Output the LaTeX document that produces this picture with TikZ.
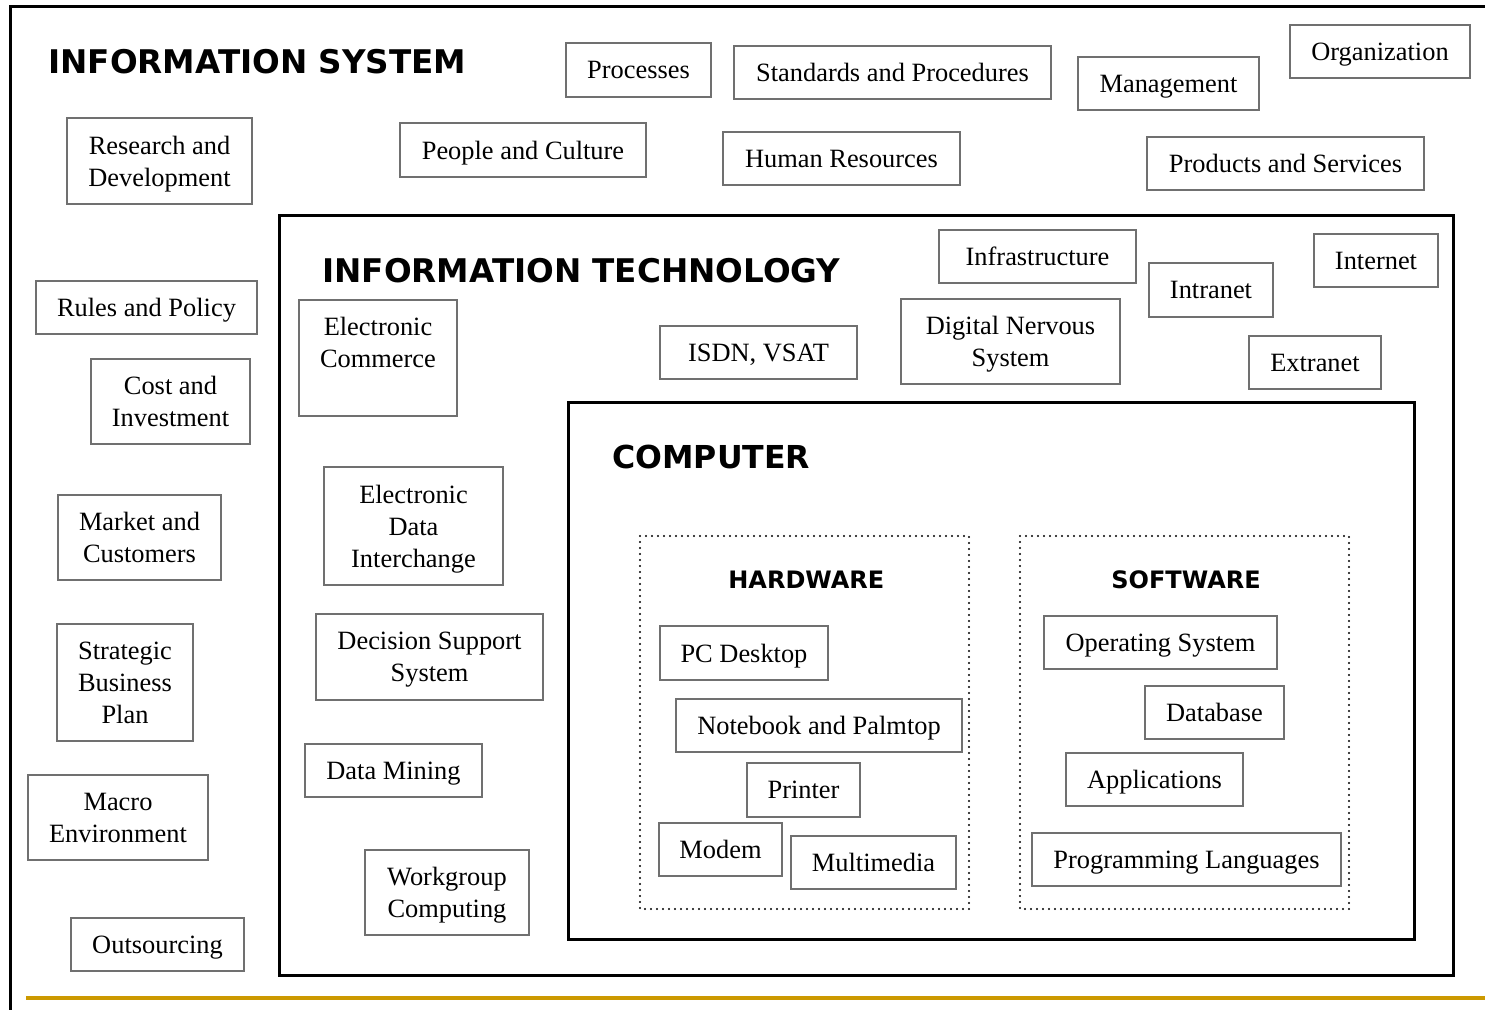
\documentclass[tikz,border=0pt]{standalone}
\usepackage{fontspec}
\setmainfont{Liberation Serif}
\newfontfamily\headfont{DejaVu Sans}
\definecolor{boxgray}{RGB}{112,112,112}
\definecolor{rulegold}{RGB}{204,153,0}
\begin{document}
\begin{tikzpicture}[x=0.5pt,y=-0.5pt,
	item/.style={draw=boxgray,line width=1.25pt,inner sep=2pt,text depth=0pt,align=center,font=\fontsize{13.2}{16}\selectfont},
	title/.style={anchor=base west,inner sep=0pt,font=\headfont\bfseries\fontsize{16.3}{19}\selectfont},
	subtitle/.style={anchor=base west,inner sep=0pt,font=\headfont\bfseries\fontsize{12}{14}\selectfont},
	frame/.style={draw=black,line width=1.5pt},
	group/.style={draw=black,line width=1.1pt,line cap=round,dash pattern=on 0pt off 3pt}]
	\clip (0,0) rectangle (1485,1009);
	% outer frame and rule
	\draw[frame] (10,6) rectangle (1520,1040);
	\draw[rulegold,line width=1.6pt] (26,998) -- (1485,998);
	\node[title] (is) at (48,73) {INFORMATION SYSTEM};
	% information system items
	\node[item,minimum width=72.5pt,minimum height=27pt] (proc) at (638.5,70) {Processes};
	\node[item,minimum width=158.5pt,minimum height=26.5pt] (std) at (892.5,72.5) {Standards and Procedures};
	\node[item,minimum width=90.5pt,minimum height=26.5pt] (mgmt) at (1168.5,83.5) {Management};
	\node[item,minimum width=90pt,minimum height=26.5pt] (org) at (1380,51.5) {Organization};
	\node[item,minimum width=92.5pt,minimum height=43pt] (rnd) at (159.5,161) {Research and\\Development};
	\node[item,minimum width=123pt,minimum height=27pt] (people) at (523,150) {People and Culture};
	\node[item,minimum width=118.5pt,minimum height=26.5pt] (hr) at (841.5,158.5) {Human Resources};
	\node[item,minimum width=138.5pt,minimum height=26.5pt] (prod) at (1285.5,163.5) {Products and Services};
	\node[item,minimum width=110.5pt,minimum height=26.5pt] (rules) at (146.5,307.5) {Rules and Policy};
	\node[item,minimum width=79.5pt,minimum height=42.5pt] (cost) at (170.5,401.5) {Cost and\\Investment};
	\node[item,minimum width=81.5pt,minimum height=42.5pt] (market) at (139.5,537.5) {Market and\\Customers};
	\node[item,minimum width=68pt,minimum height=58.5pt] (strat) at (125,682.5) {Strategic\\Business\\Plan};
	\node[item,minimum width=90pt,minimum height=42.5pt] (macro) at (118,817.5) {Macro\\Environment};
	\node[item,minimum width=86.5pt,minimum height=26.5pt] (outs) at (157.5,944.5) {Outsourcing};
	% information technology
	\draw[frame] (279,215) rectangle (1453,975);
	\node[title] (it) at (322,282) {INFORMATION TECHNOLOGY};
	\node[item,minimum width=98.5pt,minimum height=26.5pt] (infra) at (1037.5,256.5) {Infrastructure};
	\node[item,minimum width=62pt,minimum height=27pt] (intra) at (1211,290) {Intranet};
	\node[item,minimum width=62pt,minimum height=26.5pt] (inter) at (1376,260.5) {Internet};
	\node[item,minimum width=79pt,minimum height=58pt] (ecom) at (378,358) {Electronic\\Commerce\\~};
	\node[item,minimum width=98.5pt,minimum height=26.5pt] (isdn) at (758.5,352.5) {ISDN, VSAT};
	\node[item,minimum width=109.5pt,minimum height=42.5pt] (dns) at (1010.5,341.5) {Digital Nervous\\System};
	\node[item,minimum width=66pt,minimum height=26.5pt] (extra) at (1315,362.5) {Extranet};
	\node[item,minimum width=89.5pt,minimum height=59pt] (edi) at (413.5,526) {Electronic\\Data\\Interchange};
	\node[item,minimum width=113.5pt,minimum height=43pt] (dss) at (429.5,657) {Decision Support\\System};
	\node[item,minimum width=88.5pt,minimum height=26.5pt] (dm) at (393.5,770.5) {Data Mining};
	\node[item,minimum width=82pt,minimum height=42.5pt] (wg) at (447,892.5) {Workgroup\\Computing};
	% computer
	\draw[frame] (568,402) rectangle (1414,939);
	\node[title,font=\headfont\bfseries\fontsize{15.8}{19}\selectfont] (comp) at (612,468) {COMPUTER};
	\draw[group] (640,536) rectangle (969,909);
	\draw[group] (1020,536) rectangle (1349,909);
	\node[subtitle] (hw) at (728,588) {HARDWARE};
	\node[subtitle] (sw) at (1111,588) {SOFTWARE};
	\node[item,minimum width=84pt,minimum height=27pt] (pc) at (744,653) {PC Desktop};
	\node[item,minimum width=143pt,minimum height=26.5pt] (nb) at (819,725.5) {Notebook and Palmtop};
	\node[item,minimum width=56.5pt,minimum height=27pt] (printer) at (803.5,790) {Printer};
	\node[item,minimum width=61.5pt,minimum height=26.5pt] (modem) at (720.5,849.5) {Modem};
	\node[item,minimum width=82.5pt,minimum height=26.5pt] (mm) at (873.5,862.5) {Multimedia};
	\node[item,minimum width=116.5pt,minimum height=26.5pt] (os) at (1160.5,642.5) {Operating System};
	\node[item,minimum width=69.5pt,minimum height=26.5pt] (db) at (1214.5,712.5) {Database};
	\node[item,minimum width=88.5pt,minimum height=26.5pt] (app) at (1154.5,779.5) {Applications};
	\node[item,minimum width=154.5pt,minimum height=26.5pt] (prog) at (1186.5,859.5) {Programming Languages};
\end{tikzpicture}
\end{document}
